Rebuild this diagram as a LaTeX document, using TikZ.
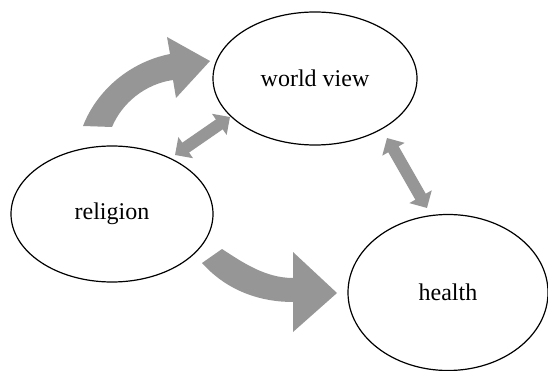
\documentclass[tikz,border=0pt]{standalone}
\usepackage{fontspec}
\setmainfont{Liberation Serif}
\usetikzlibrary{shapes.geometric,arrows.meta}
\definecolor{arrowgray}{RGB}{150,150,150}
\tikzset{
  bubble/.style={draw=black, line width=1.2pt, ellipse, inner sep=0pt, fill=white,
    font=\fontsize{24}{28}\selectfont},
  bigarrow/.style={fill=arrowgray, draw=none},
  dblarrow/.style={draw=arrowgray, line width=12pt,
    {Triangle[length=13pt,width=25pt]}-{Triangle[length=13pt,width=25pt]}}
}
\begin{document}
\begin{tikzpicture}[x=1pt,y=-1pt]
\useasboundingbox (0,0) rectangle (548,371);
% ellipses
\node[bubble, minimum width=204pt, minimum height=133pt] (wv) at (315,78.5) {world view};
\node[bubble, minimum width=202pt, minimum height=136pt] (rel) at (112,214) {religion};
\node[bubble, minimum width=200pt, minimum height=156pt] (hl) at (448,292.5) {health};
% big curved arrows
\fill[bigarrow] (83,126) .. controls (97,90) and (130,62) .. (170,54)
  -- (167,37) -- (210,61) -- (176,98) -- (173,80)
  .. controls (145,84) and (122,103) .. (112,127) -- cycle;
\fill[bigarrow] (222,249) .. controls (242,262) and (265,278) .. (293,278)
  -- (293,252) -- (337,293) -- (293,332) -- (293,302)
  .. controls (262,302) and (228,292) .. (202,263) -- cycle;
% double arrows
\coordinate (a1) at (175,155);
\coordinate (a2) at (230,117);
\coordinate (b1) at (387,138);
\coordinate (b2) at (427,208);
\draw[dblarrow] (a1) -- (a2);
\draw[dblarrow] (b1) -- (b2);
\end{tikzpicture}
\end{document}
